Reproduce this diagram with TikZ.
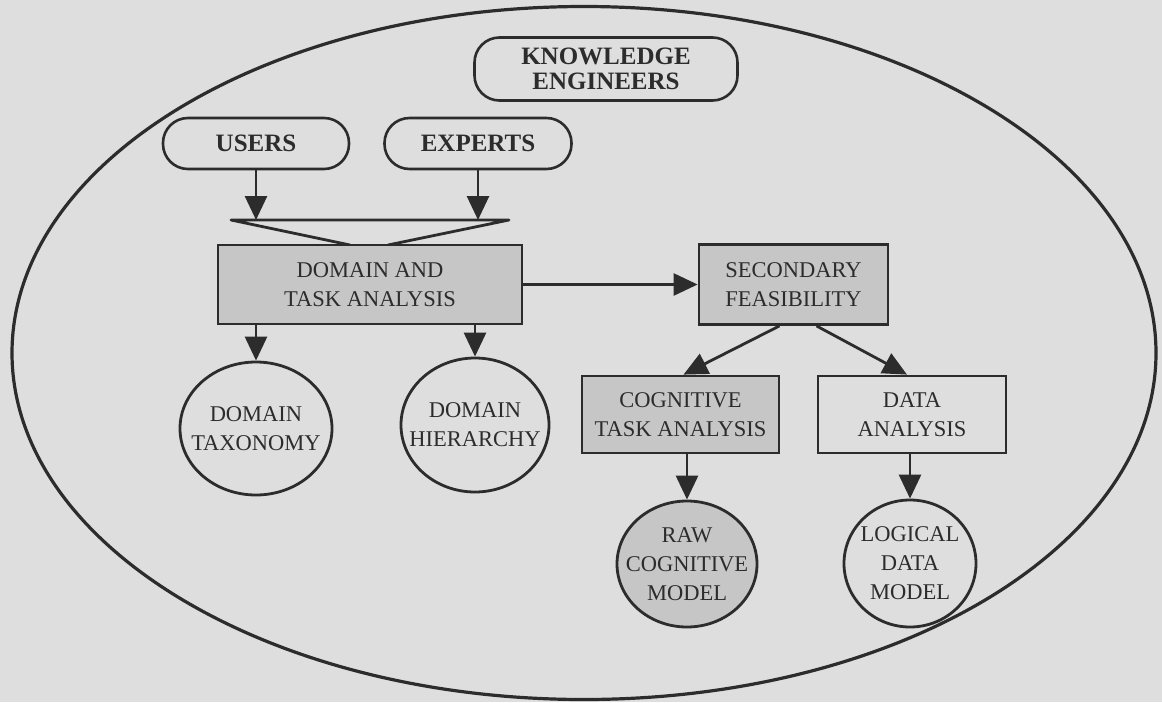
\documentclass[tikz,border=0pt]{standalone}
\usepackage{fontspec}
\setmainfont{Liberation Serif}
\usetikzlibrary{arrows.meta,calc,shapes.geometric}
\definecolor{page}{HTML}{DEDEDE}
\definecolor{ink}{HTML}{2C2C2C}
\definecolor{tint}{HTML}{C6C6C6}

\begin{document}
\begin{tikzpicture}[x=1pt,y=-1pt,
  every node/.style={text=ink, inner sep=0pt, align=center,
    font=\fontsize{22.5}{29}\selectfont},
  pill/.style={draw=ink, line width=2.6pt, rounded corners=25pt,
    font=\fontsize{25}{25}\selectfont\bfseries},
  box/.style={draw=ink, line width=2.8pt, rectangle},
  % the outline is set by the minimum sizes, not by the text
  blob/.style={draw=ink, line width=2.8pt, ellipse, inner sep=-30pt},
  tinted/.style={fill=tint},
  arr/.style={draw=ink, line width=2.8pt, -{Triangle[length=24pt,width=22pt]}},
  link/.style={draw=ink, line width=2.8pt, line join=round},
]
% page and enclosing ellipse
\fill[page] (0,0) rectangle (1162,702);
\draw[ink, line width=3.2pt] (584,353) ellipse [x radius=572pt, y radius=346.5pt];

% participants
\node[pill, minimum width=263pt, minimum height=63pt] (ke) at (606,69) {KNOWLEDGE\\ENGINEERS};
\node[pill, minimum width=186pt, minimum height=51pt] (users) at (256,143.5) {USERS};
\node[pill, minimum width=187pt, minimum height=51pt] (experts) at (478,143.5) {EXPERTS};

% funnel merging the two inputs
\coordinate (fl) at (231,220);
\coordinate (fr) at (509,220);
\coordinate (fml) at (350,245);
\coordinate (fmr) at (388,245);
\draw[link] (fml) -- (fl) -- (fr) -- (fmr);

% activities
\node[box, tinted, minimum width=304pt, minimum height=79pt] (dta) at (370,284.5) {DOMAIN AND\\TASK ANALYSIS};
\node[box, tinted, minimum width=189pt, minimum height=80pt] (sf) at (793.5,284.5) {SECONDARY\\FEASIBILITY};
\node[box, tinted, minimum width=197pt, minimum height=77pt] (cta) at (680.5,414.5) {COGNITIVE\\TASK ANALYSIS};
\node[box, minimum width=188pt, minimum height=77pt] (da) at (912,414.5) {DATA\\ANALYSIS};

% products
\node[blob, minimum width=152pt, minimum height=133pt] (tax) at (256,428.5) {DOMAIN\\TAXONOMY};
\node[blob, minimum width=148pt, minimum height=134pt] (hier) at (475,425) {DOMAIN\\HIERARCHY};
\node[blob, tinted, minimum width=140pt, minimum height=126pt] (raw) at (687,564) {RAW\\COGNITIVE\\MODEL};
\node[blob, minimum width=132pt, minimum height=127pt] (logic) at (910,563.5) {LOGICAL\\DATA\\MODEL};

% flows
\draw[arr] (users) -- (users.south |- fl);
\draw[arr] (experts) -- (experts.south |- fl);
\draw[arr] (dta) -- (sf);
\draw[arr] (tax.north |- dta.south) -- (tax);
\draw[arr] (hier.north |- dta.south) -- (hier);
\draw[arr] ($(sf.south)+(-14,0)$) -- ($(cta.north)+(3,0)$);
\draw[arr] ($(sf.south)+(23,0)$) -- ($(da.north)+(-5,0)$);
\draw[arr] (raw.north |- cta.south) -- (raw);
\draw[arr] (logic.north |- da.south) -- (logic);
\end{tikzpicture}
\end{document}
